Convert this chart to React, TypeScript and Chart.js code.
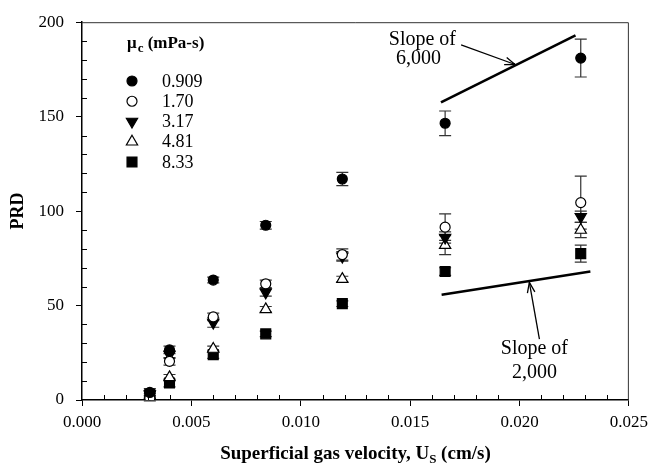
import React, { useEffect, useRef } from "react";
import { Chart, registerables } from "chart.js";
Chart.register(...registerables);

// ---- data ----
const velocities = [0.0031, 0.004, 0.006, 0.0084, 0.0119, 0.0166, 0.0228];
const seriesLabels = ["0.909", "1.70", "3.17", "4.81", "8.33"];
const prd0909 = [4, 26.5, 63.5, 92.5, 117, 146.5, 181];
const err0909 = [2, 2, 1.5, 2, 3.5, 6.5, 10];
const prd170 = [1, 20.5, 44, 61.5, 77, 91.5, 104.5];
const err170 = [1.5, 2, 2, 2, 3, 7, 14];
const prd317 = [3, 24, 41, 57, 76, 86, 97];
const err317 = [2, 2, 2.5, 2, 2.5, 3, 3];
const prd481 = [2, 12, 27, 48, 64, 82, 90];
const err481 = [1.5, 1.5, 1.5, 1.5, 1.5, 5, 4];
const prd833 = [3, 9, 24, 35, 51, 68, 77.5];
const err833 = [2, 2, 2, 1.5, 1.5, 2, 4.5];

const slope6000X = [0.01641, 0.02256];
const slope6000Y = [157.6, 193];
const slope2000X = [0.01644, 0.02324];
const slope2000Y = [55.7, 68];

const xTicks = [0, 0.005, 0.01, 0.015, 0.02, 0.025];
const yTicks = [0, 50, 100, 150, 200];
const xMinorStep = 0.001;
const yMinorStep = 10;

// annotation anchors (data units)
const note6000Lines = ["Slope of", "6,000"];
const note6000X = [0.01556, 0.01538];
const note6000Y = [190.6, 180.8];
const arrow6000 = { fromX: 0.01733, fromY: 188, toX: 0.0198, toY: 177.6 };
const note2000Lines = ["Slope of", "2,000"];
const note2000X = [0.02068, 0.02068];
const note2000Y = [27, 14.5];
const arrow2000 = { fromX: 0.02091, fromY: 32.2, toX: 0.02045, toY: 62.3 };

const SERIF = "'Liberation Serif', 'Times New Roman', serif";

type Style = { pointStyle: string; fill: string; rotation: number; radius: number };
const styles: Style[] = [
  { pointStyle: "circle", fill: "#000", rotation: 0, radius: 5 },
  { pointStyle: "circle", fill: "#fff", rotation: 0, radius: 5 },
  { pointStyle: "triangle", fill: "#000", rotation: 180, radius: 6.5 },
  { pointStyle: "triangle", fill: "#fff", rotation: 0, radius: 6.5 },
  { pointStyle: "rect", fill: "#000", rotation: 0, radius: 7 },
];
const values = [prd0909, prd170, prd317, prd481, prd833];
const errors = [err0909, err170, err317, err481, err833];

function drawMarker(ctx: CanvasRenderingContext2D, st: Style, x: number, y: number) {
  ctx.save();
  ctx.fillStyle = st.fill;
  ctx.strokeStyle = "#000";
  ctx.lineWidth = 1.2;
  ctx.beginPath();
  const r = st.radius;
  if (st.pointStyle === "circle") {
    ctx.arc(x, y, r, 0, Math.PI * 2);
  } else if (st.pointStyle === "triangle") {
    const dir = st.rotation === 180 ? -1 : 1;
    ctx.moveTo(x, y - dir * r);
    ctx.lineTo(x + r * Math.cos(Math.PI / 6), y + dir * r * Math.sin(Math.PI / 6));
    ctx.lineTo(x - r * Math.cos(Math.PI / 6), y + dir * r * Math.sin(Math.PI / 6));
    ctx.closePath();
  } else {
    const s = r * Math.SQRT1_2;
    ctx.rect(x - s, y - s, 2 * s, 2 * s);
  }
  ctx.fill();
  ctx.stroke();
  ctx.restore();
}

function arrowHead(ctx: CanvasRenderingContext2D, x1: number, y1: number, x2: number, y2: number) {
  const ang = Math.atan2(y2 - y1, x2 - x1);
  const len = 11;
  const spread = 0.35;
  ctx.beginPath();
  ctx.moveTo(x2 - len * Math.cos(ang - spread), y2 - len * Math.sin(ang - spread));
  ctx.lineTo(x2, y2);
  ctx.lineTo(x2 - len * Math.cos(ang + spread), y2 - len * Math.sin(ang + spread));
  ctx.stroke();
}

const customPlugin = {
  id: "custom",
  beforeDatasetsDraw(chart: any) {
    const ctx = chart.ctx as CanvasRenderingContext2D;
    const xs = chart.scales.x;
    const ys = chart.scales.y;
    ctx.save();
    ctx.strokeStyle = "#333";
    ctx.lineWidth = 1.2;
    errors.forEach((errs, i) => {
      errs.forEach((e, j) => {
        const px = xs.getPixelForValue(velocities[j]);
        const top = ys.getPixelForValue(values[i][j] + e);
        const bot = ys.getPixelForValue(values[i][j] - e);
        ctx.beginPath();
        ctx.moveTo(px, top);
        ctx.lineTo(px, bot);
        ctx.moveTo(px - 6, top);
        ctx.lineTo(px + 6, top);
        ctx.moveTo(px - 6, bot);
        ctx.lineTo(px + 6, bot);
        ctx.stroke();
      });
    });
    ctx.restore();
  },
  afterDraw(chart: any) {
    const ctx = chart.ctx as CanvasRenderingContext2D;
    const xs = chart.scales.x;
    const ys = chart.scales.y;
    const a = chart.chartArea;
    ctx.save();
    // frame top & right
    ctx.strokeStyle = "#333";
    ctx.lineWidth = 1;
    ctx.beginPath();
    ctx.moveTo(a.left, a.top + 0.5);
    ctx.lineTo(a.right - 0.5, a.top + 0.5);
    ctx.lineTo(a.right - 0.5, a.bottom);
    ctx.stroke();
    // minor ticks (inward)
    ctx.strokeStyle = "#000";
    ctx.lineWidth = 1;
    ctx.beginPath();
    for (let k = 1; k < 25; k++) {
      if (k % 5 === 0) continue;
      const px = Math.round(xs.getPixelForValue(k * xMinorStep)) + 0.5;
      ctx.moveTo(px, a.bottom);
      ctx.lineTo(px, a.bottom - 5);
    }
    for (let k = 1; k < 20; k++) {
      if (k % 5 === 0) continue;
      const py = Math.round(ys.getPixelForValue(k * yMinorStep)) + 0.5;
      ctx.moveTo(a.left, py);
      ctx.lineTo(a.left + 5, py);
    }
    ctx.stroke();

    // slope annotations
    ctx.fillStyle = "#000";
    ctx.font = `20px ${SERIF}`;
    ctx.textAlign = "center";
    ctx.textBaseline = "middle";
    note6000Lines.forEach((t, i) => {
      ctx.fillText(t, xs.getPixelForValue(note6000X[i]), ys.getPixelForValue(note6000Y[i]));
    });
    note2000Lines.forEach((t, i) => {
      ctx.fillText(t, xs.getPixelForValue(note2000X[i]), ys.getPixelForValue(note2000Y[i]));
    });
    ctx.strokeStyle = "#000";
    ctx.lineWidth = 1.3;
    [arrow6000, arrow2000].forEach((ar) => {
      const x1 = xs.getPixelForValue(ar.fromX);
      const y1 = ys.getPixelForValue(ar.fromY);
      const x2 = xs.getPixelForValue(ar.toX);
      const y2 = ys.getPixelForValue(ar.toY);
      ctx.beginPath();
      ctx.moveTo(x1, y1);
      ctx.lineTo(x2, y2);
      ctx.stroke();
      arrowHead(ctx, x1, y1, x2, y2);
    });

    // legend
    const lx = 132;
    const hy = 42;
    ctx.fillStyle = "#000";
    ctx.textAlign = "left";
    ctx.textBaseline = "alphabetic";
    ctx.font = `bold 17px ${SERIF}`;
    ctx.fillText("\u03bc", lx - 5, hy + 6);
    const w = ctx.measureText("\u03bc").width;
    ctx.font = `bold 13px ${SERIF}`;
    ctx.fillText("c", lx - 5 + w + 1, hy + 10);
    const wc = ctx.measureText("c").width;
    ctx.font = `bold 17px ${SERIF}`;
    ctx.fillText(" (mPa-s)", lx - 5 + w + 1 + wc, hy + 6);
    ctx.font = `18px ${SERIF}`;
    ctx.textBaseline = "middle";
    seriesLabels.forEach((lab, i) => {
      const ry = 81 + i * 20.25;
      drawMarker(ctx, styles[i], lx, ry);
      ctx.fillStyle = "#000";
      ctx.fillText(lab, 162, ry + 1);
    });

    // x title with subscript
    const p1 = "Superficial gas velocity, U";
    const sub = "S";
    const p2 = " (cm/s)";
    ctx.font = `bold 19px ${SERIF}`;
    const w1 = ctx.measureText(p1).width;
    const w3 = ctx.measureText(p2).width;
    ctx.font = `bold 13px ${SERIF}`;
    const w2 = ctx.measureText(sub).width;
    const total = w1 + w2 + w3;
    let tx = (a.left + a.right) / 2 - total / 2;
    const ty = 459;
    ctx.textBaseline = "alphabetic";
    ctx.font = `bold 19px ${SERIF}`;
    ctx.fillText(p1, tx, ty);
    tx += w1;
    ctx.font = `bold 13px ${SERIF}`;
    ctx.fillText(sub, tx, ty + 4);
    tx += w2;
    ctx.font = `bold 19px ${SERIF}`;
    ctx.fillText(p2, tx, ty);
    ctx.restore();
  },
};

export default function App() {
  const ref = useRef<HTMLCanvasElement | null>(null);
  useEffect(() => {
    if (!ref.current) return;
    const scatterSets = values.map((vals, i) => ({
      type: "scatter" as const,
      label: seriesLabels[i],
      data: vals.map((v, j) => ({ x: velocities[j], y: v })),
      pointStyle: styles[i].pointStyle,
      pointRotation: styles[i].rotation,
      pointRadius: styles[i].radius,
      pointBackgroundColor: styles[i].fill,
      pointBorderColor: "#000",
      pointBorderWidth: 1.2,
      showLine: false,
    }));
    const lineSets = [
      { x: slope6000X, y: slope6000Y, label: "Slope 6000" },
      { x: slope2000X, y: slope2000Y, label: "Slope 2000" },
    ].map((s) => ({
      type: "line" as const,
      label: s.label,
      data: s.x.map((x, j) => ({ x, y: s.y[j] })),
      borderColor: "#000",
      borderWidth: 2.6,
      pointRadius: 0,
      fill: false,
    }));
    const chart = new Chart(ref.current, {
      type: "scatter",
      data: { datasets: [...lineSets, ...scatterSets] as any },
      options: {
        animation: false,
        responsive: false,
        layout: { padding: { top: 15, right: 21, left: 0, bottom: 0 } },
        plugins: { legend: { display: false }, tooltip: { enabled: false } },
        scales: {
          x: {
            type: "linear",
            min: 0,
            max: 0.025,
            afterBuildTicks: (s: any) => {
              s.ticks = xTicks.map((v) => ({ value: v }));
            },
            afterFit: (s: any) => {
              s.height = 66;
            },
            grid: { drawOnChartArea: false, tickLength: 6, color: "#000", lineWidth: 1 },
            border: { color: "#000", width: 1.5 },
            ticks: {
              padding: 6,
              color: "#000",
              font: { family: SERIF, size: 17 },
              callback: (v: any) => Number(v).toFixed(3),
            },
          },
          y: {
            type: "linear",
            min: 0,
            max: 200,
            afterBuildTicks: (s: any) => {
              s.ticks = yTicks.map((v) => ({ value: v }));
            },
            afterFit: (s: any) => {
              s.width = 82;
            },
            grid: { drawOnChartArea: false, tickLength: 6, color: "#000", lineWidth: 1 },
            border: { color: "#000", width: 1.5 },
            title: {
              display: true,
              text: "PRD",
              color: "#000",
              font: { family: SERIF, size: 18, weight: "bold" },
              padding: { top: 8, bottom: 0 },
            },
            ticks: {
              padding: 12,
              color: "#000",
              font: { family: SERIF, size: 17 },
            },
          },
        },
      },
      plugins: [customPlugin],
    });
    return () => chart.destroy();
  }, []);
  return (
    <div style={{ position: "fixed", left: 0, top: 0, width: 654, height: 466, background: "#fff" }}>
      <canvas ref={ref} width={654} height={466} style={{ width: 654, height: 466 }} />
    </div>
  );
}
